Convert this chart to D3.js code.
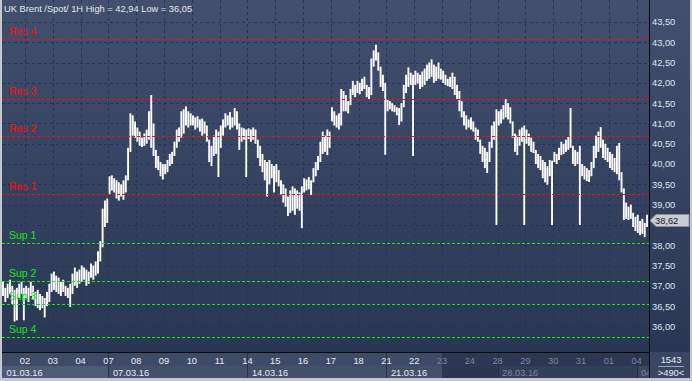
<!DOCTYPE html>
<html><head><meta charset="utf-8">
<script src="https://cdn.jsdelivr.net/npm/d3@7"></script>
<style>html,body{margin:0;padding:0;background:#c4c8d0;overflow:hidden}svg{display:block}</style>
</head><body><svg id="c" width="692" height="381"></svg>
<script>
// ---------------- data ----------------
const titleText = "UK Brent /Spot/ 1H High = 42,94 Low = 36,05";
const dayLabels = ["01","02","03","04","07","08","09","10","11","14","15","16","17","18","21","22","23","24","28","29","30","31","01","04"];
const weekLabels = ["01.03.16","07.03.16","14.03.16","21.03.16","28.03.16","04"];
const weekStartDay = [0,4,9,14,18,23];
const dimFromDay = 16;
const barsPerDay = 12;
const firstBarOffset = 2;
const highs = [
 37.10,36.95,37.05,37.15,37.00,36.90,36.95,37.05,37.10,36.95,
 37.00,36.95,37.10,37.00,36.85,36.90,36.80,36.75,36.70,36.85,37.05,37.30,
 37.35,37.25,37.20,37.10,37.15,37.00,36.95,37.05,37.30,37.45,37.35,37.40,
 37.50,37.45,37.40,37.35,37.55,37.50,37.60,37.85,38.10,38.90,39.10,39.15,
 39.70,39.72,39.65,39.60,39.55,39.50,39.60,39.72,40.40,41.25,41.20,41.05,
 40.90,40.80,40.65,40.75,40.85,41.30,41.70,41.00,40.35,40.20,40.05,40.00,
 40.00,40.10,40.25,40.30,40.55,40.85,40.90,41.30,41.35,41.42,41.30,41.25,
 41.20,41.15,41.18,41.10,41.12,41.05,40.95,40.60,40.45,40.70,40.85,40.80,
 40.95,41.10,41.25,41.20,41.28,41.15,41.38,41.30,41.00,40.90,40.88,40.85,
 40.88,40.85,40.90,40.85,40.60,40.45,40.25,40.10,40.05,40.10,40.00,39.95,
 40.00,39.85,39.60,39.50,39.40,39.20,39.35,39.45,39.40,39.35,39.30,39.45,
 39.65,39.62,39.68,39.60,39.90,40.05,40.20,40.55,40.80,40.70,40.85,40.80,
 41.40,41.30,41.20,41.25,41.85,41.80,41.70,41.55,41.85,42.05,41.95,42.05,
 42.00,42.10,42.15,41.95,41.90,42.60,42.80,42.94,42.75,42.40,42.20,42.00,
 41.60,41.55,41.50,41.45,41.40,41.38,41.50,41.95,42.20,42.38,42.25,42.20,
 42.30,42.25,42.20,42.28,42.35,42.45,42.50,42.58,42.45,42.40,42.50,42.35,
 42.30,42.20,42.10,42.15,42.25,42.15,41.95,41.80,41.55,41.30,41.20,41.10,
 41.15,41.05,40.90,40.85,40.60,40.45,40.40,40.30,40.55,40.95,41.05,41.35,
 41.30,41.35,41.45,41.60,41.50,41.40,41.05,40.75,40.70,40.85,40.90,40.95,
 40.85,40.75,40.65,40.55,40.35,40.25,40.20,40.10,40.05,39.95,40.10,40.08,
 40.30,40.25,40.40,40.55,40.50,40.60,40.67,41.38,40.45,40.35,40.30,40.45,
 40.00,39.95,39.90,39.85,40.05,40.45,40.70,40.80,40.91,40.60,40.50,40.40,
 40.30,40.25,40.15,40.45,40.52,39.80,39.40,39.05,38.95,39.00,38.80,38.70,
 38.75,38.60,38.65,38.55,38.75
];
const lows = [
 36.75,36.60,36.70,36.80,36.55,36.12,36.15,36.70,36.80,36.15,
 36.70,36.60,36.75,36.65,36.50,36.45,36.40,36.45,36.22,36.50,36.60,36.85,
 36.90,36.85,36.80,36.75,36.85,36.75,36.70,36.48,36.80,37.00,36.95,37.05,
 37.10,37.15,37.00,37.05,37.20,37.15,37.25,37.30,37.60,37.95,38.45,38.55,
 39.25,39.35,39.30,39.15,39.10,39.20,39.12,39.30,39.60,40.30,40.70,40.65,
 40.55,40.45,40.42,40.45,40.50,40.60,40.40,40.20,39.90,39.85,39.70,39.62,
 39.75,39.80,39.95,40.00,40.20,40.40,40.55,40.65,40.75,40.95,40.90,40.95,
 40.95,40.85,40.90,40.80,40.70,40.75,40.55,40.05,39.95,40.20,40.25,39.68,
 40.40,40.70,40.90,40.95,40.85,40.90,40.95,40.85,40.35,40.55,40.60,39.68,
 40.62,40.55,40.60,40.50,40.15,39.95,39.80,39.60,39.20,39.50,39.65,39.30,
 39.55,39.45,39.25,39.05,38.95,38.72,38.80,38.85,38.75,38.90,38.85,38.42,
 39.30,39.35,39.38,39.24,39.55,39.70,39.85,40.05,40.25,40.30,40.22,40.40,
 41.05,40.95,40.90,40.85,40.95,41.30,41.30,41.25,41.45,41.70,41.65,41.75,
 41.72,41.80,41.85,41.65,41.58,41.70,42.40,42.55,42.30,41.90,41.80,40.23,
 41.30,41.35,41.30,41.28,41.20,40.96,41.05,41.40,41.75,41.90,41.95,40.20,
 41.95,41.98,41.85,41.90,41.95,42.05,42.10,42.15,42.00,42.05,42.10,42.08,
 42.00,41.95,41.92,41.90,41.85,41.70,41.60,41.30,41.15,40.95,40.85,40.90,
 40.85,40.80,40.60,40.55,40.25,40.05,39.90,39.78,40.05,40.40,40.60,38.50,
 40.95,41.00,41.10,41.15,41.10,41.00,40.65,40.30,40.22,40.45,40.55,38.50,
 40.50,40.45,40.30,40.27,40.00,39.90,39.85,39.65,39.55,39.49,39.70,38.50,
 40.05,40.00,40.10,40.22,40.25,40.30,40.35,40.40,40.00,39.95,40.00,38.50,
 39.70,39.62,39.58,39.56,39.70,39.90,40.15,40.30,40.40,40.15,40.10,40.05,
 39.90,39.85,39.80,39.75,39.60,39.30,38.62,38.65,38.62,38.65,38.45,38.35,
 38.30,38.25,38.28,38.20,38.45
];
const lastPrice = 38.62;
const priceTicks = [36.0,36.5,37.0,37.5,38.0,38.5,39.0,39.5,40.0,40.5,41.0,41.5,42.0,42.5,43.0,43.5];
const resLabels = ["Res 4","Res 3","Res 2","Res 1"];
const resLevels = [43.09,41.61,40.70,39.26];
const supLabels = ["Sup 1","Sup 2","Sup 3","Sup 4"];
const supLevels = [38.06,37.12,36.55,35.74];
const barCountText = "1543";
const visibleText = ">490<";

// ---------------- layout ----------------
const W = 692, H = 381;
const plotL = 2, plotR = 649, plotT = 0, plotB = 352;
const dayRowB = 366, dateRowB = 378;
const FONT = "'Liberation Sans', Arial, sans-serif";
const fmt = v => d3.format(".2f")(v).replace(".", ",");

const x = d3.scaleLinear().domain([0, 24]).range([-2.8, 664.4]);
const y = d3.scaleLinear().domain([36, 43.5]).range([326.4, 22]);

const svg = d3.select("#c");
const defs = svg.append("defs");
const g1 = defs.append("linearGradient").attr("id","bg").attr("x1",0).attr("y1",0).attr("x2",0).attr("y2",1);
g1.append("stop").attr("offset","0%").attr("stop-color","#42506d");
g1.append("stop").attr("offset","100%").attr("stop-color","#2a3753");
defs.append("clipPath").attr("id","plotClip").append("rect")
  .attr("x",plotL).attr("y",plotT).attr("width",plotR-plotL).attr("height",plotB-plotT);
defs.append("clipPath").attr("id","axClip").append("rect")
  .attr("x",plotL).attr("y",plotB).attr("width",plotR-plotL).attr("height",dateRowB-plotB);

// frame
svg.append("rect").attr("x",0).attr("y",0).attr("width",W).attr("height",H).attr("fill","#c4c8d0");
svg.append("rect").attr("x",plotL).attr("y",0).attr("width",690-plotL).attr("height",dateRowB).attr("fill","#36435f");
// plot bg
svg.append("rect").attr("x",plotL).attr("y",plotT).attr("width",plotR-plotL).attr("height",plotB-plotT).attr("fill","url(#bg)");
// right panel
svg.append("rect").attr("x",plotR+1).attr("y",0).attr("width",690-plotR-1).attr("height",plotB).attr("fill","url(#bg)");
svg.append("rect").attr("x",plotR+1).attr("y",plotB).attr("width",690-plotR-1).attr("height",dateRowB-plotB).attr("fill","#3a4762");

const plot = svg.append("g").attr("clip-path","url(#plotClip)");

// grid
plot.append("g").selectAll("line").data(priceTicks).join("line")
  .attr("x1",plotL).attr("x2",plotR)
  .attr("y1",d=>Math.round(y(d))+0.5).attr("y2",d=>Math.round(y(d))+0.5)
  .attr("stroke","#1c3466").attr("stroke-dasharray","3,3");
const dayIdx = d3.range(1, dayLabels.length);
plot.append("g").selectAll("line").data(dayIdx).join("line")
  .attr("x1",d=>Math.round(x(d))+0.5).attr("x2",d=>Math.round(x(d))+0.5)
  .attr("y1",plotT).attr("y2",plotB)
  .attr("stroke","#1c3466").attr("stroke-dasharray","3,3");

// bars
const bars = highs.map((h,i)=>({t:(i+firstBarOffset+0.5)/barsPerDay, h, l:lows[i]}));
plot.append("g").selectAll("rect").data(bars).join("rect")
  .attr("x",d=>x(d.t)-0.95).attr("width",1.9)
  .attr("y",d=>y(d.h)).attr("height",d=>Math.max(1,y(d.l)-y(d.h)))
  .attr("fill","#ffffff");

// levels
function levels(labels, vals, color){
  const gg = plot.append("g");
  gg.selectAll("line").data(vals).join("line")
    .attr("x1",plotL).attr("x2",plotR)
    .attr("y1",d=>Math.round(y(d))+0.5).attr("y2",d=>Math.round(y(d))+0.5)
    .attr("stroke",color).attr("stroke-dasharray","3,2");
  gg.selectAll("text").data(vals).join("text")
    .attr("x",9).attr("y",d=>Math.round(y(d))-4)
    .attr("fill",color).attr("font-family",FONT).attr("font-size","10.5px")
    .text((d,i)=>labels[i]);
}
levels(resLabels,resLevels,"#ff0a0a");
levels(supLabels,supLevels,"#16e616");

// title
svg.append("text").attr("x",4).attr("y",11.5).attr("fill","#e6e9ef")
  .attr("font-family",FONT).attr("font-size","9.3px").text(titleText);

// right axis labels (the one hidden under the price tag is not shown)
const py = Math.round(y(lastPrice))+0.5;
svg.append("g").selectAll("text").data(priceTicks.filter(d=>Math.abs(y(d)-py)>8)).join("text")
  .attr("x",652).attr("y",d=>y(d)+3.4)
  .attr("fill","#dfe6f2").attr("font-family",FONT).attr("font-size","9.3px")
  .text(d=>fmt(d));

// current price tag
svg.append("path")
  .attr("d",`M650,${py} L656,${py-6} L689,${py-6} L689,${py+6} L656,${py+6} Z`)
  .attr("fill","#c8ccd5").attr("stroke","#8a909c");
svg.append("text").attr("x",655).attr("y",py+3.4).attr("fill","#1a1a1a")
  .attr("font-family",FONT).attr("font-size","9.3px").text(fmt(lastPrice));

// bottom panel
const dimX = x(dimFromDay);
const ax = svg.append("g").attr("clip-path","url(#axClip)");
ax.append("rect").attr("x",plotL).attr("y",plotB).attr("width",dimX-plotL).attr("height",dayRowB-plotB).attr("fill","#3e4b67");
ax.append("rect").attr("x",dimX).attr("y",plotB).attr("width",plotR-dimX).attr("height",dayRowB-plotB).attr("fill","#2c3852");
weekStartDay.forEach((s,i)=>{
  const x0 = Math.max(plotL, x(s));
  const x1 = i+1<weekStartDay.length ? x(weekStartDay[i+1]) : plotR;
  const brightFill = i===0 ? "#4e5b76" : "#43506b";
  const dimFill = i===4 ? "#323f59" : (i===5 ? "#3a4762" : "#2b3751");
  if (x0 < dimX) ax.append("rect").attr("x",x0).attr("y",dayRowB).attr("width",Math.min(x1,dimX)-x0).attr("height",dateRowB-dayRowB).attr("fill",brightFill);
  if (x1 > dimX) { const xs = Math.max(x0,dimX);
    ax.append("rect").attr("x",xs).attr("y",dayRowB).attr("width",x1-xs).attr("height",dateRowB-dayRowB).attr("fill",dimFill); }
  if (i>0) ax.append("line").attr("x1",Math.round(x(s))+0.5).attr("x2",Math.round(x(s))+0.5)
    .attr("y1",plotB).attr("y2",dateRowB).attr("stroke", x(s)<dimX ? "#26324a" : "#222d44");
  ax.append("text").attr("x",x0+4.5).attr("y",375.5)
    .attr("fill", x(s)<dimX ? "#e6ebf3" : "#7a879f")
    .attr("font-family",FONT).attr("font-size","9.3px").text(weekLabels[i]);
});
ax.selectAll("text.day").data(dayIdx).join("text").attr("class","day")
  .attr("x",d=>x(d)).attr("y",364).attr("text-anchor","middle")
  .attr("fill",d=>d<dimFromDay ? "#e8ecf4" : "#7a879f")
  .attr("font-family",FONT).attr("font-size","9.3px").text(d=>dayLabels[d]);

// separators
svg.append("line").attr("x1",plotL).attr("x2",plotR+0.5).attr("y1",plotB+0.5).attr("y2",plotB+0.5).attr("stroke","#05070c");
svg.append("line").attr("x1",plotR+0.5).attr("x2",plotR+0.5).attr("y1",0).attr("y2",dateRowB).attr("stroke","#05070c");

// counts
svg.append("text").attr("x",671).attr("y",362.7).attr("text-anchor","middle").attr("fill","#e6ebf3")
  .attr("font-family",FONT).attr("font-size","9.3px").text(barCountText);
svg.append("line").attr("x1",658).attr("x2",684).attr("y1",366.5).attr("y2",366.5).attr("stroke","#9aa4b8");
svg.append("text").attr("x",671).attr("y",376).attr("text-anchor","middle").attr("fill","#e6ebf3")
  .attr("font-family",FONT).attr("font-size","9.3px").text(visibleText);
</script></body></html>
